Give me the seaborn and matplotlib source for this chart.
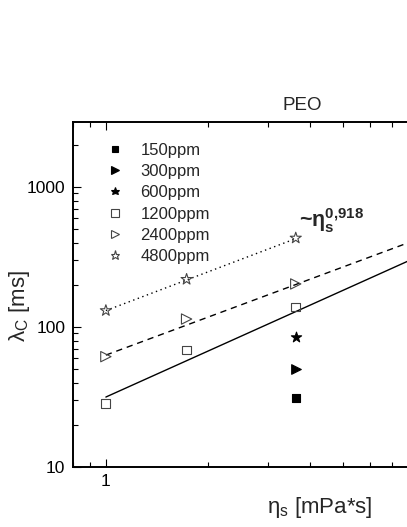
import numpy as np
import pandas as pd
import seaborn as sns
import matplotlib
matplotlib.use("Agg")
from matplotlib import pyplot as plt
from matplotlib.ticker import NullFormatter
from matplotlib.lines import Line2D

sns.set_style("ticks")
plt.rcParams['font.family'] = ['Liberation Sans', 'DejaVu Sans']
plt.rcParams['mathtext.fontset'] = 'custom'
plt.rcParams['mathtext.rm'] = 'Liberation Sans'
plt.rcParams['mathtext.it'] = 'Liberation Sans:italic'
plt.rcParams['mathtext.bf'] = 'Liberation Sans:bold'

# solvent viscosity [mPa*s]
eta_s = [1.0, 1.73, 3.63]

# relaxation times [ms] per PEO concentration
conc = ["150ppm", "300ppm", "600ppm", "1200ppm", "2400ppm", "4800ppm"]
lam_150 = [31.1]
lam_300 = [50.1]
lam_600 = [85.0]
lam_1200 = [28.5, 68.5, 139.0]
lam_2400 = [61.4, 114.0, 203.0]
lam_4800 = [131.0, 219.0, 432.0]
lam_all = [lam_150, lam_300, lam_600, lam_1200, lam_2400, lam_4800]

# power-law fits  lambda = A * eta^b
fit_A = [31.6, 63.0, 131.0]
fit_b = [1.09, 0.90, 0.918]
fit_xmax = [10.0, 10.0, 3.63]
fit_style = ["-", (0, (4.5, 3.5)), (0, (1, 2.5))]

markers = ["s", ">", "*", "s", ">", "*"]
filled = [True, True, True, False, False, False]
msize = [36, 48, 60, 40, 55, 70]

rows = []
for c, lam in zip(conc, lam_all):
    xs = eta_s[-len(lam):]
    for x, y in zip(xs, lam):
        rows.append({"conc": c, "eta": x, "lam": y})
df = pd.DataFrame(rows)

fig = plt.figure(figsize=(4.07, 5.27), dpi=100)
W, H = 407, 527
ax = fig.add_axes([73 / W, 60 / H, 372 / W, 345 / H])
ax.set_xscale("log")
ax.set_yscale("log")

for A, b, xm, ls in zip(fit_A, fit_b, fit_xmax, fit_style):
    xs = np.array([1.0, xm])
    sns.lineplot(x=xs, y=A * xs ** b, ax=ax, color="black", lw=1.0,
                 linestyle=ls, zorder=2)

handles = []
for c, m, f, s in zip(conc, markers, filled, msize):
    sub = df[df["conc"] == c]
    fc = "black" if f else "none"
    ec = "black" if f else "#444444"
    sns.scatterplot(data=sub, x="eta", y="lam", ax=ax, marker=m, s=s,
                    facecolor=fc, edgecolor=ec, linewidth=0.8, zorder=3)
    handles.append(Line2D([], [], ls="none", marker=m, markersize=np.sqrt(s) * 0.8,
                          markerfacecolor=fc, markeredgecolor=ec,
                          markeredgewidth=0.8, label=c))

ax.set_xlim(0.8, 10)
ax.set_ylim(10, 10 ** (1 + 345 / 140))
ax.set_xticks([1])
ax.set_xticklabels(["1"])
ax.set_yticks([10, 100, 1000])
ax.set_yticklabels(["10", "100", "1000"])
ax.xaxis.set_minor_formatter(NullFormatter())
ax.yaxis.set_minor_formatter(NullFormatter())
ax.tick_params(which="both", direction="in", top=True, right=True,
               labelsize=12.5, width=0.8, color="black", labelcolor="black")
ax.tick_params(which="major", length=6)
ax.tick_params(which="minor", length=3.5)
ax.tick_params(axis="y", pad=5.5)
ax.tick_params(axis="x", pad=5)
for sp in ax.spines.values():
    sp.set_linewidth(1.4)
    sp.set_color("black")
ax.set_xlabel("")
ax.set_ylabel("")

ax.legend(handles=handles, loc="upper left", frameon=False,
          bbox_to_anchor=(107 / W, 1 - 143 / H), bbox_transform=fig.transFigure,
          borderaxespad=0, borderpad=0, handlelength=1.0, handletextpad=1.0,
          labelspacing=0.37, fontsize=12)

fig.text(302 / W, 1 - 105 / H, "PEO", fontsize=13.5, ha="center", va="center")
fig.text(299 / W, 1 - 227 / H, r"~η$_\mathbf{s}^\mathbf{0{,}918}$", fontsize=15.5,
         fontweight="bold", ha="left", va="baseline")
fig.text(320 / W, 1 - 508 / H, r"η$_\mathrm{s}$ [mPa*s]", fontsize=16,
         ha="center", va="center")
fig.text(20 / W, 1 - 306 / H, r"λ$_\mathrm{C}$ [ms]", fontsize=16,
         ha="center", va="center", rotation=90)

fig.savefig("out.png", dpi=100)
